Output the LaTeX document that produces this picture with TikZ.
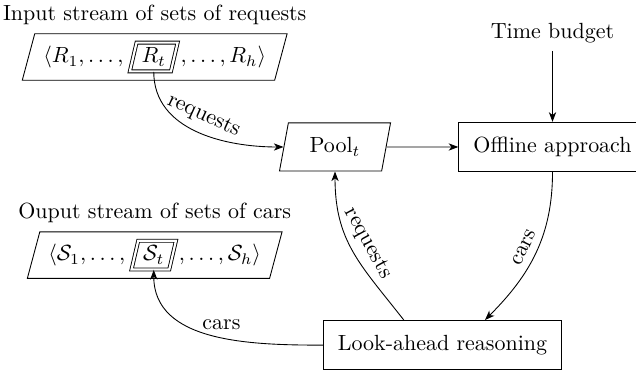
\documentclass[tikz,border=0pt]{standalone}
\usetikzlibrary{arrows.meta,positioning,shapes.geometric,fit}

\begin{document}
\begin{tikzpicture}[node distance={15mm}, >={Stealth[length=4.4pt, width=3.3pt, inset=1.3pt]},
    box/.style = {draw, rectangle, minimum height=7.9mm, inner xsep=2.3mm},
    para/.style = {draw, trapezium, trapezium left angle=75, trapezium right angle=105, trapezium stretches body},
    pool/.style = {para, minimum height=7.7mm, inner xsep=3.4mm},
    stream/.style = {para, inner xsep=1.3mm, inner ysep=1.35mm},
    slot/.style = {para, double, double distance=1pt, minimum height=4.6mm, inner xsep=0.8mm, inner ysep=1.5pt},
    part/.style = {inner sep=0pt}]
    \useasboundingbox (0,0) rectangle (10.176,5.968);
    \node[pool] (pool) at (5.36,3.616) {Pool$_t$};
    \node[box, minimum width=30mm] (offline) [node distance=34.8mm, right of=pool] {Offline approach};
    \node (budget) [node distance=18.2mm, above of=offline] {Time budget};
    \node[box] (look) [node distance=31.7mm, below of=pool, xshift=17.2mm] {Look-ahead reasoning};
    % input stream
    \node[slot] (rt) [node distance=14.4mm, above of=pool, xshift=-29mm] {$R_t$};
    \node[part, anchor=base east] (rtleft) at ([xshift=-4pt]rt.west |- rt.text) {$\langle R_1,\dots,$};
    \node[part, anchor=base west] (rtright) at ([xshift=2.5pt]rt.east |- rt.text) {$,\dots,R_h\rangle$};
    \node[stream, fit=(rtleft)(rt)(rtright)] (instream) {};
    \node (inlabel) [node distance=6.8mm, above of=instream] {Input stream of sets of requests};
    % output stream
    \node[slot] (st) [node distance=31.7mm, below of=rt] {$\mathcal{S}_t$};
    \node[part, anchor=base east] (stleft) at ([xshift=-4pt]st.west |- st.text) {$\langle \mathcal{S}_1,\dots,$};
    \node[part, anchor=base west] (stright) at ([xshift=2.5pt]st.east |- st.text) {$,\dots,\mathcal{S}_h\rangle$};
    \node[stream, fit=(stleft)(st)(stright)] (outstream) {};
    \node (outlabel) [node distance=6.8mm, above of=outstream] {Ouput stream of sets of cars};
    % connectors
    \draw[->] (rt) to[out=-90, in=180] node[sloped, above] {requests} (pool);
    \draw[->] (pool) -- (offline);
    \draw[->] (budget) -- (offline);
    \draw[->] (offline) to[out=-90, in=45] node[sloped, above] {cars} ([xshift=6.8mm]look.north);
    \draw[->] ([xshift=-6.2mm]look.north) to[out=128, in=-90, looseness=1.1] node[sloped, above] {requests} (pool);
    \draw[->] (look) to[out=180, in=-90] node[above, pos=0.45] {cars} (st);
\end{tikzpicture}
\end{document}
